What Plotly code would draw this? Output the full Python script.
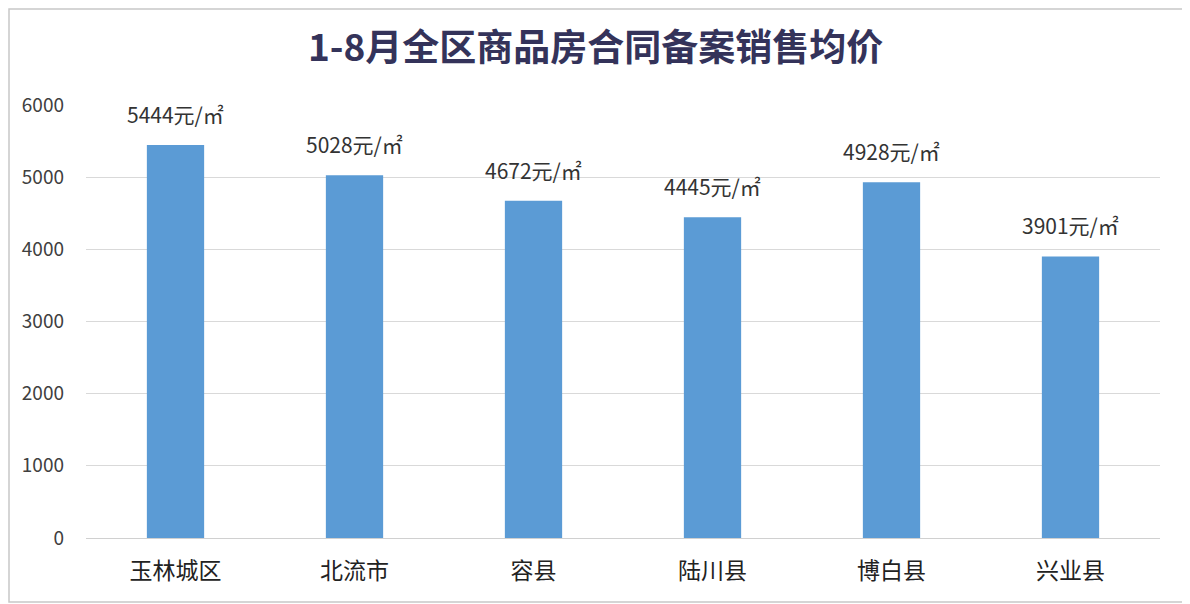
import plotly.graph_objects as go

categories = ["玉林城区", "北流市", "容县", "陆川县", "博白县", "兴业县"]
prices = [5444, 5028, 4672, 4445, 4928, 3901]
unit = "元/㎡"
y_ticks = [0, 1000, 2000, 3000, 4000, 5000, 6000]
title_text = "1-8月全区商品房合同备案销售均价"

FONT = "Noto Sans CJK SC"
W, H = 1190, 604
OFF = 8  # page body offset
pl, pr, pt, pb = 86, 1160, 105, 538  # plot area in screenshot pixels
ml, mt = pl - OFF, pt - OFF
pw, ph = pr - pl, pb - pt
mr, mb = W - ml - pw, H - mt - ph

def px_to_paper_x(x):
    return (x - pl) / pw

def px_to_paper_y(y):
    return (pb - y) / ph

fig = go.Figure()
fig.add_trace(go.Bar(
    x=categories, y=prices,
    marker=dict(color="#5B9BD5", line=dict(width=0)),
    hoverinfo="x+y",
))

for c, v in zip(categories, prices):
    fig.add_annotation(
        x=c, y=v, text=f"{v}{unit}", showarrow=False,
        yshift=31, font=dict(family=FONT, size=21, color="#333333"),
    )

fig.add_annotation(
    xref="paper", yref="paper", x=px_to_paper_x(W / 2), y=px_to_paper_y(45),
    text=f"<b>{title_text}</b>", showarrow=False,
    font=dict(family=FONT, size=37, color="#34335a"), xanchor="center", yanchor="middle",
)

# outer frame (drawn at the edges of the figure)
fig.add_shape(
    type="rect", xref="paper", yref="paper",
    x0=px_to_paper_x(OFF + 1), x1=px_to_paper_x(W - 2),
    y0=px_to_paper_y(H - 2), y1=px_to_paper_y(OFF + 1),
    line=dict(color="#c8c8c8", width=1.5), layer="below",
)

fig.update_layout(
    width=W, height=H,
    margin=dict(l=ml, r=mr, t=mt, b=mb),
    paper_bgcolor="white", plot_bgcolor="white",
    bargap=0.68, showlegend=False,
    font=dict(family=FONT),
    xaxis=dict(
        tickfont=dict(family=FONT, size=23, color="#222222"),
        showline=True, linecolor="#d0d0d0", linewidth=1, ticks="",
        showgrid=False, ticklabelstandoff=12,
    ),
    yaxis=dict(
        range=[0, 6000], tickvals=y_ticks,
        tickfont=dict(family=FONT, size=19, color="#404040"),
        showgrid=True, gridcolor="#d9d9d9", gridwidth=1,
        zeroline=False, showline=False, ticks="", ticklabelstandoff=21,
    ),
)

fig.write_html("out.html")
